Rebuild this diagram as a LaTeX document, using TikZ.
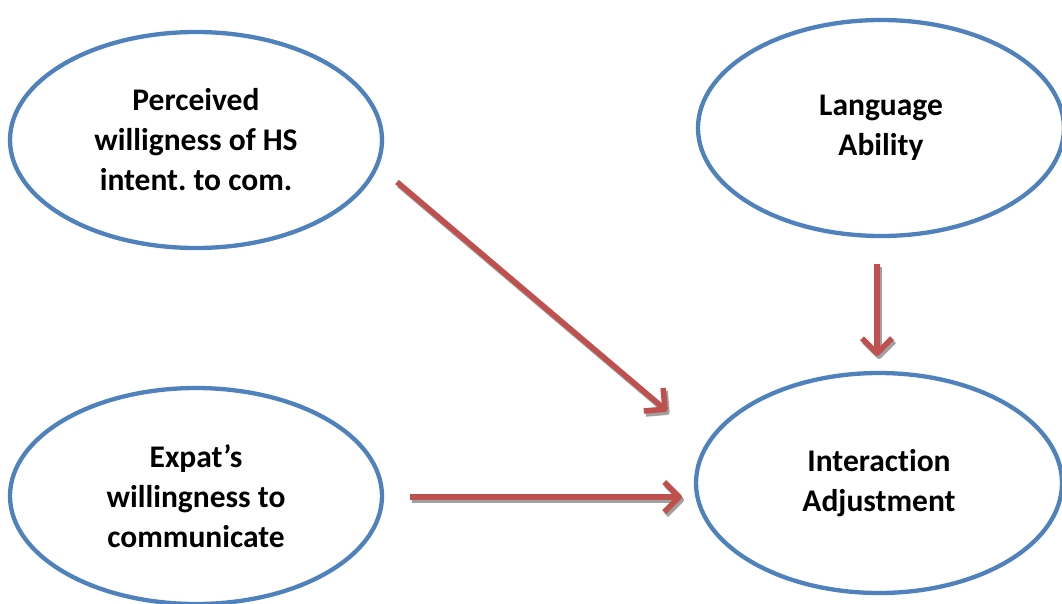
\documentclass[tikz,border=0pt]{standalone}
\usepackage{fontspec}
\setmainfont{Carlito}[Ligatures=NoCommon]
\usetikzlibrary{shapes.geometric,arrows.meta}
\frenchspacing
\definecolor{ovalblue}{HTML}{4F81BD}
\definecolor{arrowred}{HTML}{C0504D}
\definecolor{shadowgray}{HTML}{A0A0A0}
\tikzset{
  construct/.style={ellipse, draw=ovalblue, line width=4.3pt, fill=white,
    minimum width=372pt, minimum height=216pt, inner sep=0pt,
    align=center, font=\bfseries\fontsize{31.5}{40}\selectfont},
  barbtip/.tip={Straight Barb[length=15pt, width=30pt, line join=round]},
  patharrow/.style={draw=arrowred, line width=5.5pt, -barbtip,
    preaction={draw=shadowgray, line width=5.5pt, -barbtip,
      transform canvas={shift={(2pt,-3pt)}}}}
}
\begin{document}
\begin{tikzpicture}[x=1pt,y=-1pt]
\useasboundingbox[fill=white] (0,0) rectangle (1062,603);

\node[construct] (hs)   at (196,140) {Perceived\\willigness of HS\\intent. to com.};
\node[construct, minimum width=366pt] (lang) at (881,128) {Language\\Ability};
\node[construct] (wtc)  at (196,496) {Expat’s\\willingness to\\communicate};
\node[construct, minimum width=366pt, minimum height=220pt] (ia) at (879,483) {Interaction\\Adjustment};

% free ends of the three paths
\coordinate (hsout)  at (397,182);
\coordinate (iain1)  at (667,411);
\coordinate (langout) at (877,264);
\coordinate (iain2)  at (877,356);
\coordinate (wtcout) at (410,497);
\coordinate (iain3)  at (682,497);

\draw[patharrow] (hsout) -- (iain1);
\draw[patharrow] (langout) -- (iain2);
\draw[patharrow] (wtcout) -- (iain3);
\end{tikzpicture}
\end{document}
